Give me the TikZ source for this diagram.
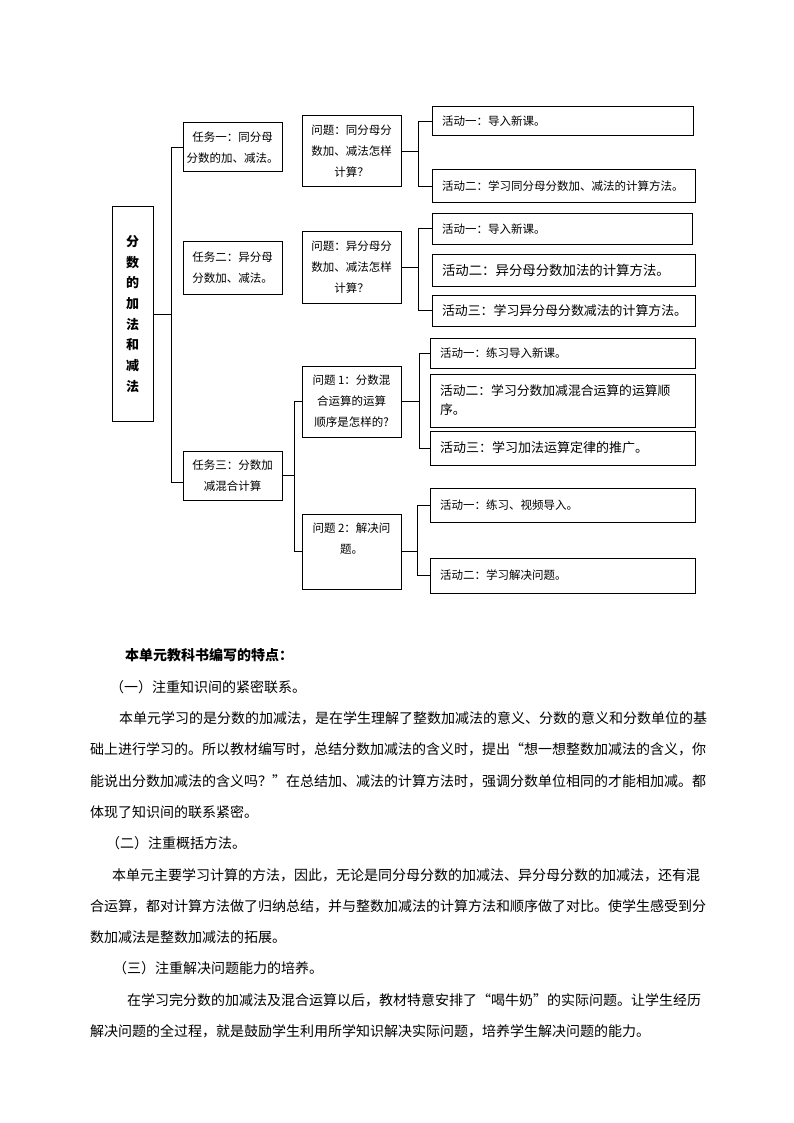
\documentclass[tikz,border=0pt]{standalone}
\usepackage{fontspec}
\setmainfont{Noto Sans CJK SC}
\XeTeXlinebreaklocale "zh"
\XeTeXlinebreakskip=0pt plus 2pt
\begin{document}
\begin{tikzpicture}[x=1pt,y=-1pt,
  box/.style={draw, line width=1pt, inner sep=0pt, align=center, font=\fontsize{11.5}{21}\selectfont},
  actbox/.style={draw, line width=1pt, inner ysep=0pt, inner xsep=10pt, align=left, font=\fontsize{11.5}{19}\selectfont},
  conn/.style={line width=1pt},
  body/.style={anchor=base west, inner sep=0pt, font=\fontsize{14}{14}\selectfont}]
\useasboundingbox[fill=white] (0,0) rectangle (794,1123);

% main box
\node[box, minimum width=41pt, minimum height=214pt, font=\fontsize{13}{20.7}\selectfont\bfseries] (main) at (132.5,314) {分\\数\\的\\加\\法\\和\\减\\法};

% tasks
\node[box, minimum width=99pt, minimum height=49pt] (t1) at (232.5,147.5) {任务一：同分母\\分数的加、减法。};
\node[box, minimum width=99pt, minimum height=53pt] (t2) at (232.5,267.5) {任务二：异分母\\分数加、减法。};
\node[box, minimum width=99pt, minimum height=49pt] (t3) at (232.5,475.5) {任务三：分数加\\减混合计算};

% questions
\node[box, minimum width=99pt, minimum height=71pt] (q1) at (351.5,151.5) {问题：同分母分\\数加、减法怎样\\计算？};
\node[box, minimum width=99pt, minimum height=71pt] (q2) at (351.5,267.5) {问题：异分母分\\数加、减法怎样\\计算？};
\node[box, minimum width=99pt, minimum height=71pt] (q3) at (351.5,401.5) {问题 1：分数混\\合运算的运算\\顺序是怎样的?};
\node[box, minimum width=99pt, minimum height=75pt] (q4) at (351.5,551.5) {问题 2：解决问\\题。\\\strut};

% activities
\node[actbox, text width=241pt, minimum height=29pt] (a11) at (562.5,121.5) {活动一：导入新课。};
\node[actbox, text width=243pt, minimum height=33pt] (a12) at (563.5,186.5) {\mbox{活动二：学习同分母分数加、减法的计算方法。}};
\node[actbox, text width=240pt, minimum height=30pt] (a21) at (562,229) {活动一：导入新课。};
\node[actbox, text width=243pt, minimum height=32pt, font=\fontsize{13.4}{19}\selectfont] (a22) at (563.5,270) {\mbox{活动二：异分母分数加法的计算方法。}};
\node[actbox, text width=243pt, minimum height=31pt, font=\fontsize{12.9}{19}\selectfont] (a23) at (563.5,310.5) {\mbox{活动三：学习异分母分数减法的计算方法。}};
\node[actbox, text width=245pt, minimum height=30pt] (a31) at (562.5,353) {活动一：练习导入新课。};
\node[actbox, text width=245pt, minimum height=53pt, font=\fontsize{12.8}{19}\selectfont] (a32) at (562.5,400.5) {\mbox{活动二：学习分数加减混合运算的运算顺}\\序。};
\node[actbox, text width=245pt, minimum height=34pt, font=\fontsize{13}{19}\selectfont] (a33) at (562.5,448) {\mbox{活动三：学习加法运算定律的推广。}};
\node[actbox, text width=245pt, minimum height=34pt] (a41) at (562.5,505) {活动一：练习、视频导入。};
\node[actbox, text width=245pt, minimum height=35pt] (a42) at (562.5,575.5) {活动二：学习解决问题。};

% connectors
\coordinate (tr) at (171,482);
\draw[conn] (main.east) -- (main.east -| tr);
\draw[conn] (t1.west) -| (tr) -- (tr -| t3.west);

\coordinate (s1) at (418,150);
\draw[conn] (q1.east) -- (q1.east -| s1);
\draw[conn] (a11.west) -| (s1 |- a12.west) -- (a12.west);

\coordinate (s2) at (418,268);
\draw[conn] (q2.east) -- (q2.east -| s2);
\draw[conn] (a21.west) -| (s2 |- a23.west) -- (a23.west);

\coordinate (s5) at (294,475);
\draw[conn] (t3.east) -- (t3.east -| s5);
\draw[conn] (q3.west) -| (s5 |- q4.west) -- (q4.west);

\coordinate (s3) at (419,402);
\draw[conn] (q3.east) -- (q3.east -| s3);
\draw[conn] (a31.west) -| (s3 |- a33.west) -- (a33.west);

\coordinate (s4) at (417,544);
\draw[conn] (q4.east) -- (q4.east -| s4);
\draw[conn] (a41.west) -| (s4 |- a42.west) -- (a42.west);

% body text
\node[body, font=\fontsize{14}{14}\selectfont\bfseries] (h) at (125,660) {本单元教科书编写的特点：};
\node[body] (l1) at (110,692) {（一）注重知识间的紧密联系。};
\node[body] (l2) at (119,723) {\makebox[588pt][s]{本单元学习的是分数的加减法，是在学生理解了整数加减法的意义、分数的意义和分数单位的基}};
\node[body] (l3) at (90,754) {\makebox[617pt][s]{础上进行学习的。所以教材编写时，总结分数加减法的含义时，提出“想一想整数加减法的含义，你}};
\node[body] (l4) at (90,786) {\makebox[617pt][s]{能说出分数加减法的含义吗？”在总结加、减法的计算方法时，强调分数单位相同的才能相加减。都}};
\node[body] (l5) at (90,817) {体现了知识间的联系紧密。};
\node[body] (l6) at (106,848) {（二）注重概括方法。};
\node[body] (l7) at (112,880) {\makebox[595pt][s]{本单元主要学习计算的方法，因此，无论是同分母分数的加减法、异分母分数的加减法，还有混}};
\node[body] (l8) at (90,911) {\makebox[617pt][s]{合运算，都对计算方法做了归纳总结，并与整数加减法的计算方法和顺序做了对比。使学生感受到分}};
\node[body] (l9) at (90,942) {数加减法是整数加减法的拓展。};
\node[body] (l10) at (113,973) {（三）注重解决问题能力的培养。};
\node[body] (l11) at (127,1005) {\makebox[580pt][s]{在学习完分数的加减法及混合运算以后，教材特意安排了“喝牛奶”的实际问题。让学生经历}};
\node[body] (l12) at (90,1036) {解决问题的全过程，就是鼓励学生利用所学知识解决实际问题，培养学生解决问题的能力。};
\end{tikzpicture}
\end{document}
